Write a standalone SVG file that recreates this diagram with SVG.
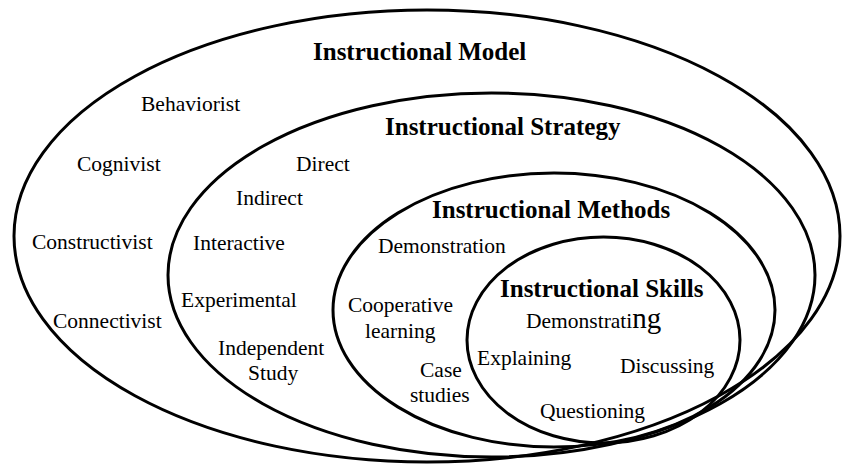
<svg xmlns="http://www.w3.org/2000/svg" width="843" height="466" viewBox="0 0 843 466">
<style>
.ring{fill:none;stroke:#000;stroke-width:3}
.t{font-family:"Liberation Serif","Times New Roman",serif;font-size:21.5px;fill:#000}
.h{font-family:"Liberation Serif","Times New Roman",serif;font-size:25px;font-weight:bold;fill:#000}
</style>
<rect width="843" height="466" fill="#fff"/>
<g id="model">
<ellipse class="ring" cx="427" cy="236" rx="413" ry="226"/>
<text class="h" x="313" y="60">Instructional Model</text>
<text class="t" x="141" y="111">Behaviorist</text>
<text class="t" x="77" y="171">Cognivist</text>
<text class="t" x="32" y="249">Constructivist</text>
<text class="t" x="53" y="328">Connectivist</text>
</g>
<g id="strategy">
<ellipse class="ring" cx="491.5" cy="275" rx="323.5" ry="182"/>
<text class="h" x="385" y="135">Instructional Strategy</text>
<text class="t" x="296" y="171">Direct</text>
<text class="t" x="236" y="205">Indirect</text>
<text class="t" x="193" y="250">Interactive</text>
<text class="t" x="181" y="307">Experimental</text>
<text class="t" x="218" y="355">Independent</text>
<text class="t" x="248" y="380">Study</text>
</g>
<g id="methods">
<ellipse class="ring" cx="554" cy="310" rx="221" ry="137"/>
<text class="h" x="432" y="218">Instructional Methods</text>
<text class="t" x="378" y="253">Demonstration</text>
<text class="t" x="348" y="312">Cooperative</text>
<text class="t" x="365" y="338">learning</text>
<text class="t" x="420" y="377">Case</text>
<text class="t" x="410" y="402">studies</text>
</g>
<g id="skills">
<ellipse class="ring" cx="603.5" cy="340" rx="136.5" ry="103"/>
<text class="h" x="500" y="297">Instructional Skills</text>
<text class="t" x="526" y="328">Demonstrati<tspan style="font-size:29px">ng</tspan></text>
<text class="t" x="477" y="365">Explaining</text>
<text class="t" x="620" y="373">Discussing</text>
<text class="t" x="540" y="418">Questioning</text>
</g>
</svg>
